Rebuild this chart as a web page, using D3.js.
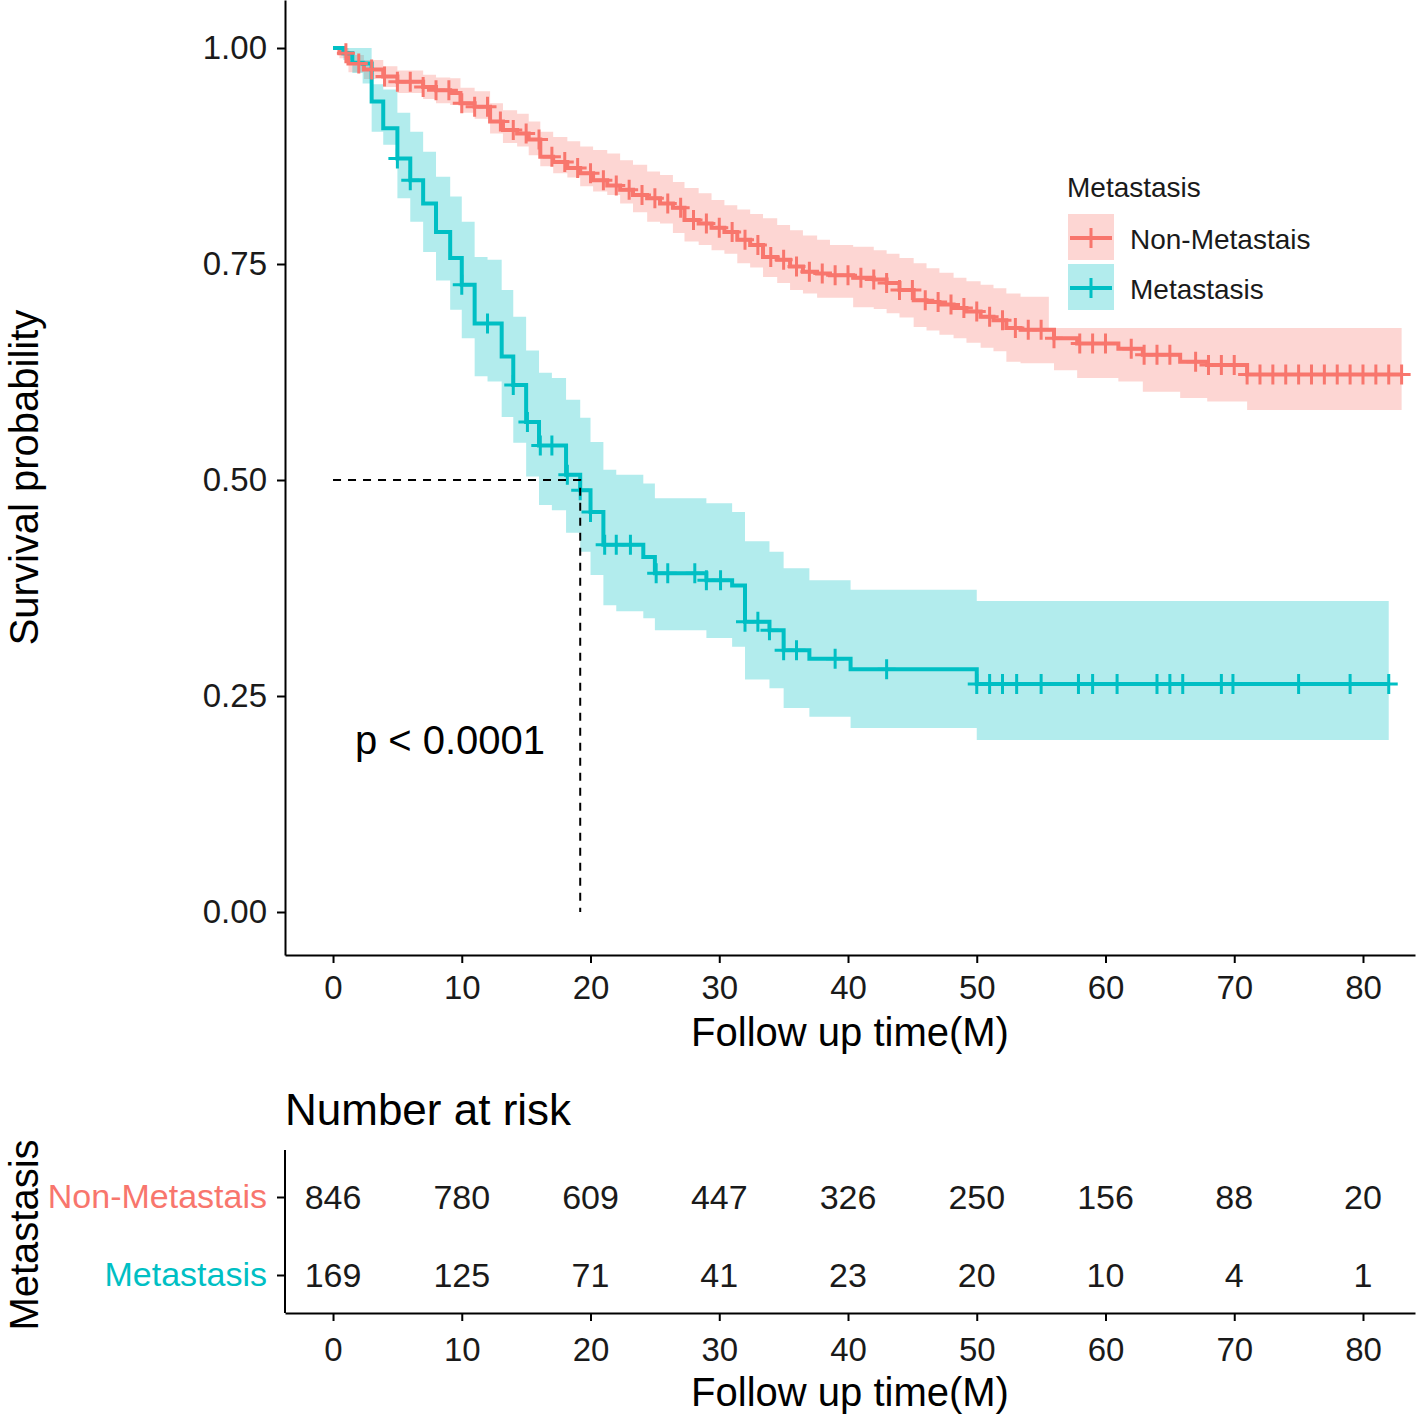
<!DOCTYPE html>
<html>
<head>
<meta charset="utf-8">
<script src="https://cdn.jsdelivr.net/npm/d3@7"></script>
<style>
  html, body { margin: 0; padding: 0; background: #fff; }
  svg { display: block; font-family: "Liberation Sans", Arial, sans-serif; }
</style>
</head>
<body>
<svg id="chart" width="1418" height="1420"></svg>
<script>
// ---------------- data ----------------
const groups = ["Non-Metastais", "Metastasis"];
const groupColors = ["#F8766D", "#00BFC4"];
const xTicks = [0, 10, 20, 30, 40, 50, 60, 70, 80];
const yTicks = [0, 0.25, 0.5, 0.75, 1.0];

// Non-Metastais step curve (time, survival, lower CI, upper CI)
const nonTime  = [0, 0.5, 1.2, 2.4, 3.9, 5.0, 7.0, 8.0, 9.1, 9.9, 11.0, 12.2, 13.2, 14.3, 15.2, 16.1, 17.1, 18.2, 19.2, 20.2, 21.3, 22.3, 23.3, 24.4, 25.4, 26.4, 27.3, 28.4, 29.4, 30.4, 31.4, 32.4, 33.4, 34.5, 35.5, 36.5, 37.6, 38.6, 40.4, 42.0, 43.0, 44.0, 45.1, 46.1, 47.1, 48.2, 49.2, 50.3, 51.3, 52.3, 53.4, 55.6, 56.0, 57.8, 61.0, 62.9, 65.8, 67.9, 71.0];
const nonSurv  = [1.000, .994, .982, .975, .967, .961, .955, .951, .948, .936, .932, .915, .905, .901, .894, .874, .868, .861, .855, .847, .841, .836, .830, .826, .820, .815, .801, .797, .792, .787, .778, .772, .758, .755, .747, .741, .739, .737, .734, .732, .728, .720, .708, .706, .703, .699, .695, .689, .685, .676, .674, .674, .664, .658, .652, .645, .637, .633, .622];
const nonLower = [1.000, .988, .972, .964, .955, .948, .941, .936, .934, .925, .918, .901, .890, .886, .876, .863, .855, .850, .840, .834, .830, .820, .810, .799, .797, .786, .776, .772, .766, .762, .751, .746, .735, .728, .720, .716, .711, .711, .700, .698, .693, .688, .677, .673, .668, .664, .659, .653, .649, .637, .635, .635, .627, .618, .614, .602, .595, .591, .581];
const nonUpper = [1.000, 1.000, .992, .986, .979, .974, .969, .966, .965, .954, .950, .936, .928, .924, .915, .903, .897, .892, .886, .882, .878, .870, .865, .857, .853, .845, .838, .832, .824, .818, .813, .808, .803, .795, .789, .783, .778, .772, .770, .766, .762, .757, .751, .745, .740, .734, .730, .726, .722, .716, .712, .676, .676, .676, .676, .676, .676, .676, .676];
const nonEnd = 83.0;
const nonCensor = [1, 2, 3, 4, 5, 6, 7, 8, 9, 10, 11, 12, 13, 14, 15, 16, 17, 18, 19, 20, 21, 22, 23, 24, 25, 26, 27, 28, 29, 30, 31, 32, 33, 34, 35, 36, 37, 38, 39, 40, 41, 42, 43, 44, 45, 46, 47, 48, 49, 50, 51, 52, 53, 54, 55, 56, 58, 59, 60, 62, 63, 64, 65, 67, 68, 69, 70, 71, 72, 73, 74, 75, 76, 77, 78, 79, 80, 81, 82, 83];

// Metastasis step curve
const metTime  = [0, 0.8, 1.5, 2.3, 3.0, 3.9, 5.0, 6.0, 7.0, 8.0, 9.1, 10.0, 11.0, 12.0, 13.1, 14.0, 15.0, 16.0, 17.0, 18.1, 19.2, 20.0, 21.0, 22.0, 24.1, 25.0, 29.0, 31.0, 32.0, 33.9, 35.0, 37.0, 40.2, 50.0];
const metSurv  = [1.000, .994, .983, .982, .938, .907, .872, .847, .820, .787, .757, .726, .681, .681, .643, .610, .567, .540, .540, .506, .488, .463, .425, .425, .411, .392, .384, .378, .336, .326, .303, .293, .281, .264];
const metLower = [1.000, .986, .971, .959, .903, .888, .826, .799, .764, .731, .697, .664, .620, .614, .573, .543, .504, .471, .465, .439, .417, .390, .355, .348, .340, .326, .317, .307, .269, .259, .236, .226, .213, .199];
const metUpper = [1.000, 1.000, 1.000, 1.000, .958, .952, .925, .903, .880, .851, .828, .799, .758, .755, .720, .689, .650, .624, .618, .593, .572, .544, .512, .506, .496, .479, .473, .463, .429, .417, .398, .384, .373, .360];
const metEnd = 82.0;
const metCensor = [5.0, 6.0, 10.0, 12.0, 14.0, 15.1, 16.1, 17.0, 18.2, 19.2, 20.0, 21.1, 22.0, 23.1, 25.1, 26.0, 28.1, 29.0, 30.1, 32.0, 33.0, 33.9, 35.0, 36.0, 39.0, 43.0, 50.0, 51.0, 52.0, 53.1, 55.0, 57.9, 59.0, 60.9, 64.0, 65.0, 66.0, 69.0, 69.9, 75.0, 79.0, 82.0];

// Number at risk
const riskNon  = [846, 780, 609, 447, 326, 250, 156, 88, 20];
const riskMeta = [169, 125, 71, 41, 23, 20, 10, 4, 1];
const pText = "p < 0.0001";

// ---------------- build ----------------
const svg = d3.select("#chart");
const FONT = "'Liberation Sans', Arial, sans-serif";
const textCol = "#1a1a1a";

const x = d3.scaleLinear().domain([-3.73, 84.04]).range([285, 1415]);
const y = d3.scaleLinear().domain([-0.04977, 1.05556]).range([955, 0]);

function buildSeries(time, surv, lower, upper, end) {
  const rows = time.map((t, i) => ({ t, s: surv[i], lo: lower[i], hi: upper[i] }));
  const last = rows[rows.length - 1];
  rows.push({ t: end, s: last.s, lo: last.lo, hi: last.hi });
  return rows;
}
const series = [
  { name: groups[0], color: groupColors[0], rows: buildSeries(nonTime, nonSurv, nonLower, nonUpper, nonEnd), time: nonTime, surv: nonSurv, censor: nonCensor },
  { name: groups[1], color: groupColors[1], rows: buildSeries(metTime, metSurv, metLower, metUpper, metEnd), time: metTime, surv: metSurv, censor: metCensor }
];
function survAt(sr, t) {
  const i = d3.bisectRight(sr.time, t) - 1;
  return sr.surv[Math.max(0, i)];
}

const area = d3.area().curve(d3.curveStepAfter)
  .x(d => x(d.t)).y0(d => y(d.lo)).y1(d => y(d.hi));
const line = d3.line().curve(d3.curveStepAfter)
  .x(d => x(d.t)).y(d => y(d.s));
const plusPath = "M-9,0H9M0,-10V10";

// ribbons
series.forEach(sr => {
  svg.append("path").attr("d", area(sr.rows))
    .attr("fill", sr.color).attr("fill-opacity", 0.3).attr("stroke", "none");
});
// lines
series.forEach(sr => {
  svg.append("path").attr("d", line(sr.rows))
    .attr("fill", "none").attr("stroke", sr.color).attr("stroke-width", 4);
});
// censor marks
series.forEach(sr => {
  svg.append("g").selectAll("path").data(sr.censor).join("path")
    .attr("d", plusPath)
    .attr("transform", t => `translate(${x(t)},${y(survAt(sr, t))})`)
    .attr("fill", "none").attr("stroke", sr.color).attr("stroke-width", 3);
});

// median lines
const metSeries = series[1];
const medIdx = metSeries.surv.findIndex(v => v <= 0.5);
const medianT = metSeries.time[medIdx];
svg.append("path")
  .attr("d", `M${x(0)},${y(0.5)}H${x(medianT)}V${y(0)}`)
  .attr("fill", "none").attr("stroke", "#000").attr("stroke-width", 2)
  .attr("stroke-dasharray", "8,7");

// p value
svg.append("text").attr("x", x(1.7)).attr("y", y(0.2))
  .attr("dy", "0.36em")
  .attr("font-size", 40).attr("fill", "#000").attr("font-family", FONT)
  .text(pText);

// axes
function styleAxis(g) {
  g.selectAll(".domain").attr("stroke", "#000").attr("stroke-width", 2);
  g.selectAll(".tick line").attr("stroke", "#000").attr("stroke-width", 2);
  g.selectAll(".tick text").attr("fill", textCol).attr("font-family", FONT);
}
const yAxis = svg.append("g").attr("transform", "translate(285,0)")
  .call(d3.axisLeft(y).tickValues(yTicks).tickFormat(d3.format(".2f")).tickSize(8).tickSizeOuter(0).tickPadding(10));
styleAxis(yAxis);
yAxis.selectAll(".tick text").attr("font-size", 33);

const xAxis = svg.append("g").attr("transform", "translate(0,955)")
  .call(d3.axisBottom(x).tickValues(xTicks).tickSize(8).tickSizeOuter(0).tickPadding(13));
styleAxis(xAxis);
xAxis.selectAll(".tick text").attr("font-size", 33);

svg.append("text").attr("x", 850).attr("y", 1046).attr("text-anchor", "middle")
  .attr("font-size", 40).attr("fill", "#000").attr("font-family", FONT)
  .text("Follow up time(M)");
svg.append("text").attr("transform", "translate(38,477.5) rotate(-90)")
  .attr("text-anchor", "middle")
  .attr("font-size", 40).attr("fill", "#000").attr("font-family", FONT)
  .text("Survival probability");

// legend
const lg = svg.append("g").attr("font-family", FONT);
lg.append("text").attr("x", 1067).attr("y", 197).attr("font-size", 28).attr("fill", textCol).text("Metastasis");
groups.forEach((gname, i) => {
  const top = 214 + i * 50;
  const cy = top + 24;
  lg.append("rect").attr("x", 1068).attr("y", top).attr("width", 46).attr("height", 46)
    .attr("fill", groupColors[i]).attr("fill-opacity", 0.3);
  lg.append("line").attr("x1", 1070).attr("x2", 1112).attr("y1", cy).attr("y2", cy)
    .attr("stroke", groupColors[i]).attr("stroke-width", 4);
  lg.append("path").attr("d", plusPath).attr("transform", `translate(1091,${cy})`)
    .attr("fill", "none").attr("stroke", groupColors[i]).attr("stroke-width", 3);
  lg.append("text").attr("x", 1130).attr("y", cy + 11).attr("font-size", 28).attr("fill", textCol).text(gname);
});

// ---------------- risk table ----------------
svg.append("text").attr("x", 285).attr("y", 1125)
  .attr("font-size", 44).attr("fill", "#000").attr("font-family", FONT)
  .text("Number at risk");

const yr = d3.scalePoint().domain(groups).range([1197, 1275]);
const riskVals = [riskNon, riskMeta];

const yrAxis = svg.append("g").attr("transform", "translate(285,0)")
  .call(d3.axisLeft(yr).tickSize(8).tickSizeOuter(0).tickPadding(10));
yrAxis.select(".domain").remove();
yrAxis.append("line").attr("x1", 0).attr("x2", 0).attr("y1", 1150).attr("y2", 1313)
  .attr("stroke", "#000").attr("stroke-width", 2);
styleAxis(yrAxis);
yrAxis.selectAll(".tick text").attr("font-size", 34).attr("fill", (d, i) => groupColors[i]);

const xrAxis = svg.append("g").attr("transform", "translate(0,1313)")
  .call(d3.axisBottom(x).tickValues(xTicks).tickSize(8).tickSizeOuter(0).tickPadding(17));
styleAxis(xrAxis);
xrAxis.selectAll(".tick text").attr("font-size", 33);

groups.forEach((gname, gi) => {
  svg.append("g").selectAll("text").data(riskVals[gi]).join("text")
    .attr("x", (d, i) => x(xTicks[i])).attr("y", yr(gname)).attr("dy", "0.36em")
    .attr("text-anchor", "middle").attr("font-size", 34).attr("fill", textCol)
    .attr("font-family", FONT)
    .text(d => d);
});

svg.append("text").attr("x", 850).attr("y", 1406).attr("text-anchor", "middle")
  .attr("font-size", 40).attr("fill", "#000").attr("font-family", FONT)
  .text("Follow up time(M)");
svg.append("text").attr("transform", "translate(38,1235) rotate(-90)")
  .attr("text-anchor", "middle")
  .attr("font-size", 40).attr("fill", "#000").attr("font-family", FONT)
  .text("Metastasis");
</script>
</body>
</html>
